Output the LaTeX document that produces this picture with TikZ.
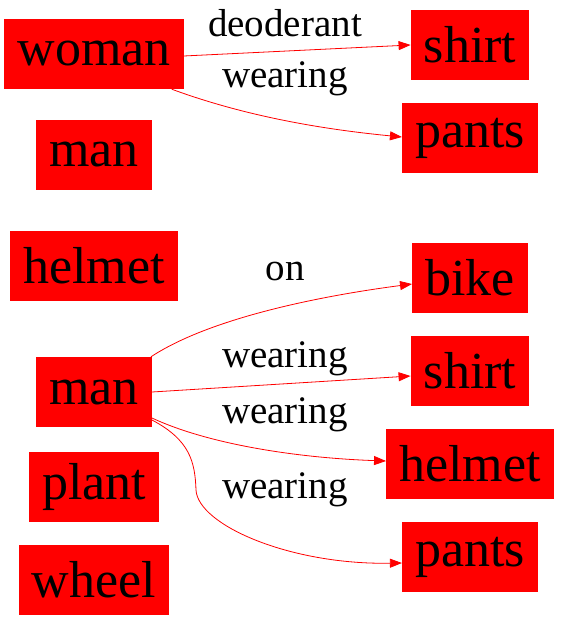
\documentclass[tikz,border=0pt]{standalone}
\usepackage{fontspec}
\setmainfont{Liberation Serif}
\usetikzlibrary{arrows.meta}

\begin{document}
\begin{tikzpicture}[x=1pt,y=-1pt,
    obj/.style={fill=red, inner xsep=13pt, inner ysep=0pt, minimum height=70pt,
      font=\fontsize{52}{52}\selectfont},
    rel/.style={anchor=base, font=\fontsize{39}{39}\selectfont},
    edge/.style={red, thick, -{Triangle[length=12pt,width=9pt]}}]
        \useasboundingbox (0,0) rectangle (560,621);
        % left column
        \node[obj] (woman) at (94,54) {woman};
        \node[obj] (man1) at (94,155) {man};
        \node[obj] (helmet1) at (94,266) {helmet};
        \node[obj] (man2) at (94,392) {man};
        \node[obj] (plant) at (94,487) {plant};
        \node[obj] (wheel) at (94,580) {wheel};
        % right column
        \node[obj] (shirt1) at (470,45) {shirt};
        \node[obj] (pants1) at (470,138) {pants};
        \node[obj] (bike) at (470,278) {bike};
        \node[obj] (shirt2) at (470,371) {shirt};
        \node[obj] (helmet2) at (470,464) {helmet};
        \node[obj] (pants2) at (470,557) {pants};
        % relations
        \draw[edge] ([yshift=-2pt]woman.east) -- (shirt1.west);
        \draw[edge] ([xshift=-12pt]woman.south east) .. controls (250,118) and (330,130) .. ([yshift=1pt]pants1.west);
        \draw[edge] ([xshift=-1pt]man2.north east) .. controls (210,318) and (320,296) .. ([yshift=-6pt]bike.west);
        \draw[edge] (man2.east) -- ([yshift=-5pt]shirt2.west);
        \draw[edge] ([yshift=-26pt]man2.east) .. controls (210,445) and (300,458) .. ([yshift=3pt]helmet2.west);
        \draw[edge] ([yshift=-28pt]man2.east) .. controls (190,440) and (195,462) .. (196,490)
            .. controls (198,525) and (290,565) .. ([yshift=-6pt]pants2.west);
        % labels
        \node[rel] (l1) at (285,36) {deoderant};
        \node[rel] (l2) at (285,87) {wearing};
        \node[rel] (l3) at (285,280) {on};
        \node[rel] (l4) at (285,367) {wearing};
        \node[rel] (l5) at (285,423) {wearing};
        \node[rel] (l6) at (285,498) {wearing};
    \end{tikzpicture}
\end{document}
